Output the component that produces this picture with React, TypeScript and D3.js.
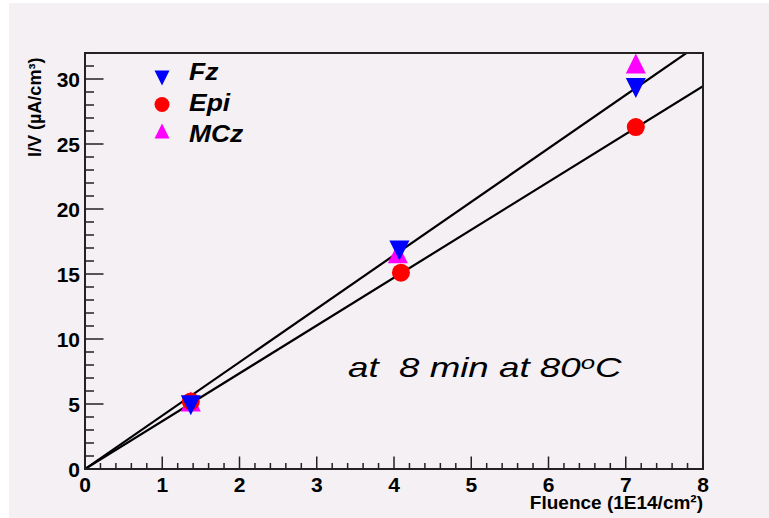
import React from "react";
import * as d3 from "d3";

const fzFluence = [1.37, 4.07, 7.13];
const fzCurrent = [4.9, 16.8, 29.3];
const epiFluence = [1.37, 4.09, 7.13];
const epiCurrent = [5.2, 15.1, 26.3];
const mczFluence = [1.37, 4.05, 7.13];
const mczCurrent = [5.2, 16.6, 31.2];
const fitSlopes = [4.11, 3.68];
const xTicks = [0, 1, 2, 3, 4, 5, 6, 7, 8];
const yTicks = [0, 5, 10, 15, 20, 25, 30];
const legendNames = ["Fz", "Epi", "MCz"];

const W = 769, H = 518;
const L = 85, R = 703, T = 53, B = 469;
const FONT = "'Liberation Sans', Arial, Helvetica, sans-serif";

function triPath(cx: number, cy: number, s: number, down: boolean) {
  const h = s;
  const w = s;
  if (down) return `M${cx - w / 2},${cy - h / 2}L${cx + w / 2},${cy - h / 2}L${cx},${cy + h / 2}Z`;
  return `M${cx - w / 2},${cy + h / 2}L${cx + w / 2},${cy + h / 2}L${cx},${cy - h / 2}Z`;
}

export default function App() {
  const x = d3.scaleLinear().domain([0, 8]).range([L, R]);
  const y = d3.scaleLinear().domain([0, 32]).range([B, T]);
  const xMinor = d3.range(0, 8.0001, 0.2);
  const yMinor = d3.range(0, 32.0001, 1);
  const line = d3.line<[number, number]>().x((d) => x(d[0])).y((d) => y(d[1]));

  const markerSize = 20;
  const legendColors = ["#0000ff", "#ff0000", "#ff00ff"];
  const legendY = [78, 104.5, 131];
  const legendBase = [80, 111, 142];

  return (
    <svg width={W} height={H} style={{ position: "absolute", left: 0, top: 0 }}>
      <defs>
        <clipPath id="frame">
          <rect x={L} y={T} width={R - L} height={B - T} />
        </clipPath>
      </defs>
      <rect x={0} y={0} width={W} height={H} fill="#ffffff" />
      <rect x={9} y={3} width={W - 9} height={H - 3} fill="#f4f0f4" />

      {/* fit lines */}
      <g clipPath="url(#frame)">
        {fitSlopes.map((s, i) => (
          <path key={i} d={line([[0, 0], [8, 8 * s]]) || ""} stroke="#000" strokeWidth={2.2} fill="none" />
        ))}
      </g>

      {/* data */}
      {mczFluence.map((f, i) => (
        <path key={"m" + i} d={triPath(x(f), y(mczCurrent[i]), markerSize, false)} fill="#ff00ff" />
      ))}
      {epiFluence.map((f, i) => (
        <circle key={"e" + i} cx={x(f)} cy={y(epiCurrent[i])} r={9} fill="#ff0000" />
      ))}
      {fzFluence.map((f, i) => (
        <path key={"f" + i} d={triPath(x(f), y(fzCurrent[i]), markerSize, true)} fill="#0000ff" />
      ))}

      {/* frame */}
      <rect x={L} y={T} width={R - L} height={B - T} fill="none" stroke="#222" strokeWidth={2} />

      {/* x ticks */}
      {xMinor.map((v, i) => {
        const major = Math.abs(v - Math.round(v)) < 1e-6;
        return (
          <line key={"xt" + i} x1={x(v)} x2={x(v)} y1={B} y2={B - (major ? 12.5 : 6)} stroke="#222" strokeWidth={1.5} />
        );
      })}
      {/* y ticks */}
      {yMinor.map((v, i) => {
        const major = v % 5 === 0;
        return (
          <line key={"yt" + i} x1={L} x2={L + (major ? 18.5 : 9)} y1={y(v)} y2={y(v)} stroke="#222" strokeWidth={1.5} />
        );
      })}

      {xTicks.map((v) => (
        <text key={"xl" + v} x={x(v)} y={492} textAnchor="middle" fontFamily={FONT} fontWeight="bold" fontSize={21} fill="#000">
          {v}
        </text>
      ))}
      {yTicks.map((v) => (
        <text key={"yl" + v} x={80} y={y(v) + 7.5} textAnchor="end" fontFamily={FONT} fontWeight="bold" fontSize={21} fill="#000">
          {v}
        </text>
      ))}

      <text x={R} y={508.5} textAnchor="end" fontFamily={FONT} fontWeight="bold" fontSize={19} fill="#000">
        Fluence (1E14/cm²)
      </text>
      <text transform={`translate(41,157) rotate(-90)`} textAnchor="start" fontFamily={FONT} fontWeight="bold" fontSize={18} fill="#000">
        I/V (µA/cm³)
      </text>

      {/* legend */}
      {legendNames.map((n, i) => (
        <g key={n}>
          {i === 0 && <path d={triPath(162, legendY[i], 15, true)} fill={legendColors[i]} />}
          {i === 1 && <circle cx={162} cy={legendY[i]} r={7.5} fill={legendColors[i]} />}
          {i === 2 && <path d={triPath(162, legendY[i], 15, false)} fill={legendColors[i]} />}
          <text transform={`translate(189,${legendBase[i]}) scale(1.15,1)`} fontFamily={FONT} fontWeight="bold" fontStyle="italic" fontSize={23} fill="#000">
            {n}
          </text>
        </g>
      ))}

      <text transform="translate(348,377) scale(1.36,1)" fontFamily={FONT} fontStyle="italic" fontSize={27} fill="#000" style={{ whiteSpace: "pre" }}>
        {"at  8 min at 80"}
        <tspan fontSize={19} dy={-8}>o</tspan>
        <tspan dy={8}>C</tspan>
      </text>
    </svg>
  );
}
